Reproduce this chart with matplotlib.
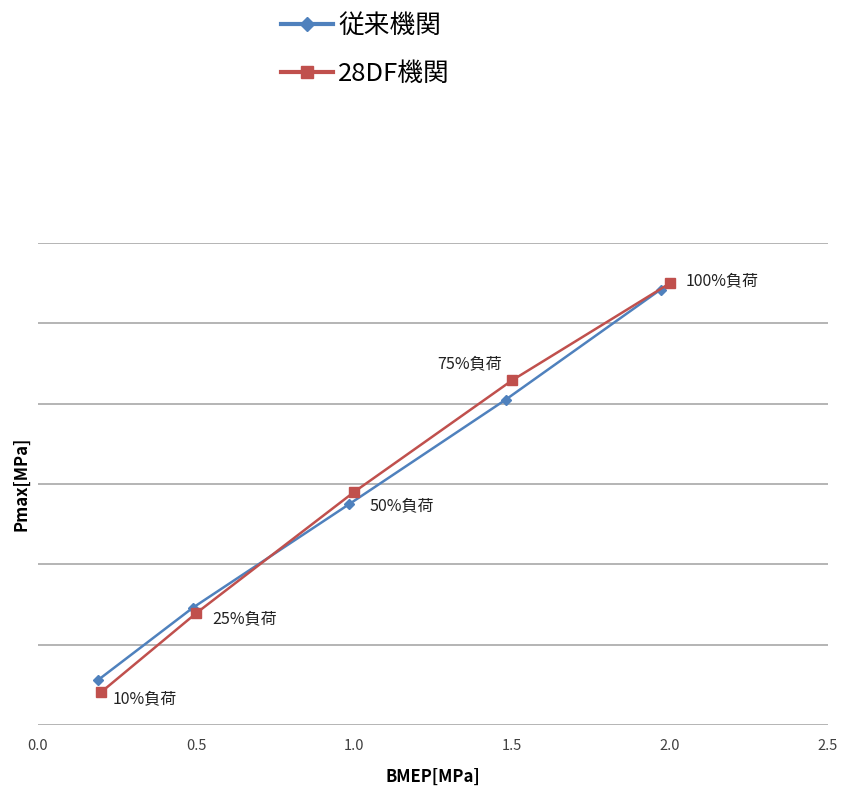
import matplotlib.pyplot as plt

plt.rcParams['font.family'] = ['Noto Sans CJK JP', 'DejaVu Sans']

# データ (y軸は目盛なしのため相対値)
bmep_conv = [0.19, 0.49, 0.985, 1.48, 1.97]
pmax_conv = [0.56, 1.46, 2.75, 4.05, 5.42]
bmep_df = [0.20, 0.50, 1.00, 1.50, 2.00]
pmax_df = [0.41, 1.39, 2.90, 4.29, 5.50]
load_labels = ["10%負荷", "25%負荷", "50%負荷", "75%負荷", "100%負荷"]
label_offsets = [(8, -5), (12, -4), (11, -10), (-7, 12), (11.5, 2)]

fig = plt.figure(figsize=(8.47, 7.92), dpi=100)
ax = fig.add_axes([0.0449, 0.0846, 0.9327, 0.6086])

l1, = ax.plot(bmep_conv, pmax_conv, color="#4F81BD", lw=1.8, marker="D", ms=5.5, label="従来機関")
l2, = ax.plot(bmep_df, pmax_df, color="#C0504D", lw=1.8, marker="s", ms=7, label="28DF機関")

for x, y, t, off in zip(bmep_df, pmax_df, load_labels, label_offsets):
    ha = "right" if off[0] < 0 else "left"
    ax.annotate(t, (x, y), xytext=off, textcoords="offset points", ha=ha, va="center",
                fontsize=11.5, color="#222222")

ax.set_xlim(0, 2.5)
ax.set_ylim(0, 6)
ax.set_xticks([0.0, 0.5, 1.0, 1.5, 2.0, 2.5])
ax.set_xticklabels(["0.0", "0.5", "1.0", "1.5", "2.0", "2.5"], fontsize=10.5, color="#404040")
ax.set_yticks(range(7))
ax.set_yticklabels([])
ax.tick_params(length=0, pad=10)
ax.grid(axis="y", color="#A0A0A0", lw=1.1)
for s in ax.spines.values():
    s.set_visible(False)

ax.set_xlabel("BMEP[MPa]", fontsize=12, fontweight="bold", labelpad=11)
ax.set_ylabel("Pmax[MPa]", fontsize=12, fontweight="bold")
ax.yaxis.set_label_coords(-0.01, 0.5)

leg = fig.legend(handles=[l1, l2], loc="upper left", bbox_to_anchor=(0.305, 1.013), frameon=False,
                 fontsize=18.5, handlelength=2.0, labelspacing=0.88, handletextpad=0.2,
                 markerscale=1.3)
for ln in leg.get_lines():
    ln.set_linewidth(3)

fig.savefig("out.png", dpi=100)
